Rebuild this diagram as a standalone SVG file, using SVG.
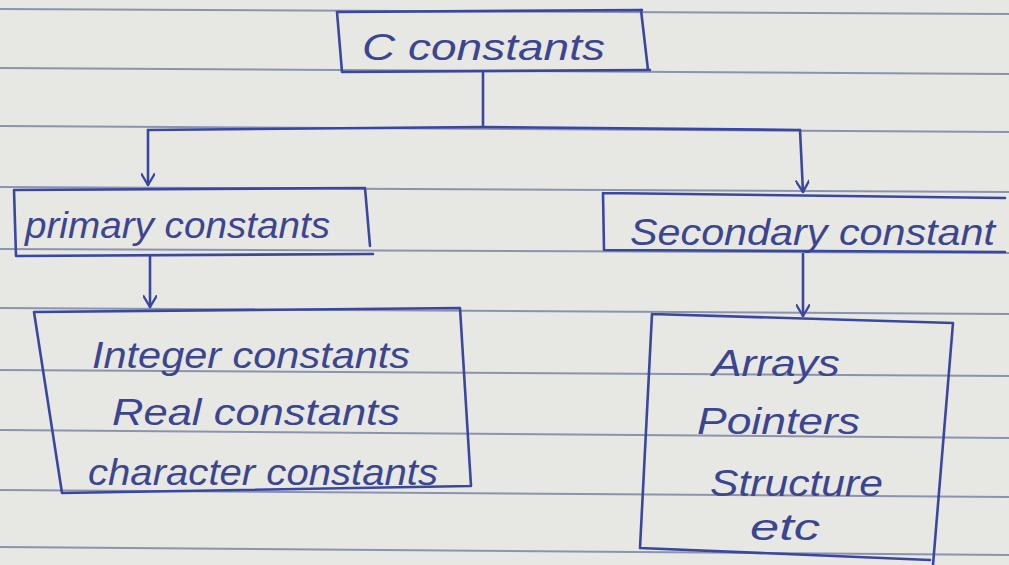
<svg xmlns="http://www.w3.org/2000/svg" width="1009" height="565" viewBox="0 0 1009 565">
<defs>
<style>
.ink{fill:none;stroke:#3a47a0;stroke-width:2.6;stroke-linecap:round;stroke-linejoin:round}
.rule{fill:none;stroke:#8c93ad;stroke-width:2}
.t{font-family:"Liberation Sans","DejaVu Sans",sans-serif;font-style:italic;fill:#3b4590;font-size:36px}
</style>
<marker id="arr" viewBox="0 0 12 12" refX="11" refY="6" markerWidth="14" markerHeight="14" markerUnits="userSpaceOnUse" orient="auto">
<path d="M1,0 L11,6 L1,12" fill="none" stroke="#3a47a0" stroke-width="2"/>
</marker>
</defs>
<rect width="1009" height="565" fill="#e7e8e4"/>
<g id="ruled-paper">
<line class="rule" x1="0" y1="9" x2="1009" y2="14"/>
<line class="rule" x1="0" y1="68" x2="1009" y2="74"/>
<line class="rule" x1="0" y1="126" x2="1009" y2="132"/>
<line class="rule" x1="0" y1="187" x2="1009" y2="192"/>
<line class="rule" x1="0" y1="249" x2="1009" y2="253"/>
<line class="rule" x1="0" y1="308" x2="1009" y2="314"/>
<line class="rule" x1="0" y1="370" x2="1009" y2="376"/>
<line class="rule" x1="0" y1="430" x2="1009" y2="438"/>
<line class="rule" x1="0" y1="490" x2="1009" y2="497"/>
<line class="rule" x1="0" y1="547" x2="1009" y2="555"/>
</g>
<g id="connectors">
<path class="ink" d="M483,73 L483,127"/>
<path class="ink" d="M148,130 L483,127 L800,130"/>
<path class="ink" d="M148,130 L148,185" marker-end="url(#arr)"/>
<path class="ink" d="M800,130 L803,192" marker-end="url(#arr)"/>
<path class="ink" d="M150,256 L150,307" marker-end="url(#arr)"/>
<path class="ink" d="M803,254 L803,316" marker-end="url(#arr)"/>
</g>
<g id="c-constants">
<path class="ink" d="M337,12 L642,10 M337,12 L342,72 L650,70 M641,10 L648,70"/>
<text class="t" x="362" y="60" font-size="40" textLength="243" lengthAdjust="spacingAndGlyphs">C constants</text>
</g>
<g id="primary-constants">
<path class="ink" d="M14,190 L365,188 L370,246 M14,190 L16,256 L373,254"/>
<text class="t" x="25" y="238" font-size="34" textLength="305" lengthAdjust="spacingAndGlyphs">primary constants</text>
</g>
<g id="secondary-constant">
<path class="ink" d="M603,193 L1005,198 M603,193 L604,250 L1005,252"/>
<text class="t" x="630" y="245" textLength="365" lengthAdjust="spacingAndGlyphs">Secondary constant</text>
</g>
<g id="primary-list">
<path class="ink" d="M34,312 L460,308 L471,486 L62,493 L34,312"/>
<text class="t" x="92" y="368" textLength="318" lengthAdjust="spacingAndGlyphs">Integer constants</text>
<text class="t" x="112" y="425" textLength="288" lengthAdjust="spacingAndGlyphs">Real constants</text>
<text class="t" x="88" y="485" textLength="350" lengthAdjust="spacingAndGlyphs">character constants</text>
</g>
<g id="secondary-list">
<path class="ink" d="M652,314 L953,323 L933,565 M652,314 L640,548 L930,560"/>
<text class="t" x="712" y="376" textLength="128" lengthAdjust="spacingAndGlyphs">Arrays</text>
<text class="t" x="697" y="434" textLength="163" lengthAdjust="spacingAndGlyphs">Pointers</text>
<text class="t" x="710" y="496" textLength="173" lengthAdjust="spacingAndGlyphs">Structure</text>
<text class="t" x="750" y="540" textLength="70" lengthAdjust="spacingAndGlyphs">etc</text>
</g>
</svg>
